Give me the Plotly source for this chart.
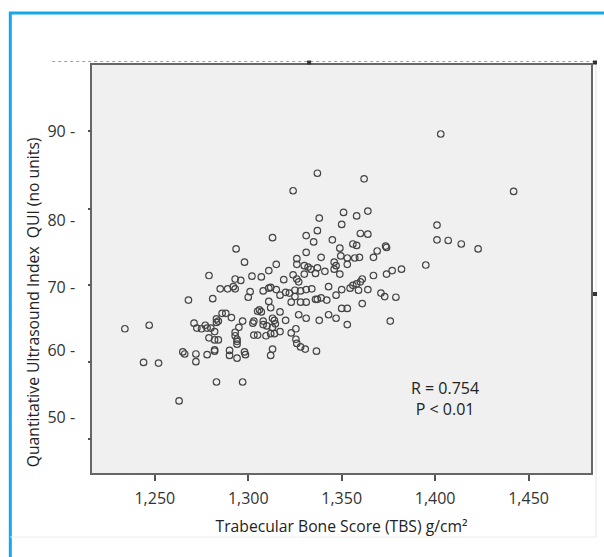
import plotly.graph_objects as go

# Trabecular Bone Score (TBS, shown as 1,250 ... 1,450) and QUI values
tbs = [1403, 1337, 1362, 1324, 1442, 1351, 1364, 1338, 1358, 1350,
       1401, 1337, 1360, 1364, 1331, 1313, 1345, 1401, 1407, 1335,
       1356, 1358, 1414, 1373.5, 1374, 1349, 1293.5, 1423, 1369, 1331,
       1349.5, 1339, 1326, 1367, 1353, 1357, 1359.5, 1298, 1326, 1330,
       1332, 1333.5, 1337, 1341, 1330, 1336, 1346, 1347, 1346, 1353,
       1349, 1374, 1377, 1382, 1367, 1395, 1326, 1327, 1325, 1328,
       1331, 1334, 1343, 1350, 1354.5, 1356, 1358, 1361, 1360, 1359,
       1364, 1347, 1371, 1373, 1379, 1328, 1331, 1336, 1337, 1339,
       1342, 1361, 1350, 1353, 1327, 1331, 1338, 1343, 1347, 1353,
       1376, 1325.5, 1325.5, 1326, 1328, 1330.5, 1336.5, 1315, 1311, 1302,
       1307, 1279, 1293, 1296, 1319, 1324, 1285, 1289, 1292, 1293,
       1301, 1300, 1308, 1311, 1312, 1315, 1317, 1320, 1322, 1268,
       1281, 1311, 1323, 1325, 1312, 1305, 1306, 1307, 1317, 1286,
       1288, 1291, 1283, 1284, 1283, 1271, 1272.5, 1275, 1277, 1278,
       1280, 1282, 1297, 1295, 1303, 1302.5, 1308, 1308, 1310, 1313,
       1314, 1314.5, 1313, 1320, 1317, 1314, 1323, 1303, 1305, 1309.5,
       1312, 1293, 1293, 1294, 1294, 1294, 1279, 1282, 1284, 1282,
       1282, 1265, 1266, 1272, 1272, 1278, 1290, 1290, 1294, 1298,
       1298.5, 1313, 1312, 1234, 1247, 1244, 1252, 1263, 1283, 1297]

qui = [91.0, 85.4, 84.6, 82.9, 82.8, 79.8, 80.0, 79.0, 79.3, 78.1,
       78.0, 77.2, 76.8, 76.7, 76.5, 76.2, 75.9, 75.9, 75.8, 75.6,
       75.3, 75.1, 75.3, 75.0, 74.8, 74.7, 74.6, 74.6, 74.3, 74.1,
       73.6, 73.4, 73.2, 73.4, 73.3, 73.3, 73.4, 72.7, 72.4, 72.2,
       72.0, 71.7, 71.9, 71.4, 71.0, 71.1, 72.7, 72.2, 71.7, 72.4,
       71.0, 71.0, 71.5, 71.7, 70.8, 72.3, 70.3, 69.9, 68.7, 68.6,
       68.8, 68.9, 69.2, 68.8, 69.0, 69.4, 69.6, 70.3, 69.9, 68.7,
       68.8, 68.0, 68.3, 67.8, 67.7, 67.0, 67.0, 67.4, 67.4, 67.6,
       67.3, 66.8, 66.1, 66.1, 65.2, 64.7, 64.4, 65.2, 64.7, 63.8,
       64.3, 63.2, 61.7, 61.1, 60.6, 60.3, 60.0, 72.4, 71.5, 70.7,
       70.6, 70.8, 70.3, 70.1, 70.2, 70.9, 68.9, 68.9, 69.2, 68.9,
       68.5, 67.7, 68.6, 69.0, 69.1, 68.8, 68.0, 68.4, 68.3, 67.3,
       67.5, 67.1, 67.0, 67.8, 66.2, 65.7, 65.9, 65.6, 65.6, 65.4,
       65.4, 64.8, 64.6, 64.3, 64.1, 64.0, 63.3, 63.2, 63.7, 63.3,
       63.3, 62.8, 64.3, 63.4, 64.3, 64.0, 64.3, 63.8, 63.6, 64.7,
       64.4, 63.9, 63.4, 64.4, 62.8, 62.5, 62.6, 62.3, 62.3, 62.2,
       62.5, 62.7, 62.2, 61.7, 61.4, 61.0, 61.9, 61.6, 61.6, 60.2,
       60.0, 59.9, 59.6, 59.6, 58.5, 59.5, 60.1, 59.4, 59.0, 59.9,
       59.5, 60.3, 59.4, 63.2, 63.7, 58.4, 58.3, 52.9, 55.6, 55.6]

x_ticks = [1250, 1300, 1350, 1400, 1450]
y_tick_labels = ["90 -", "80 -", "70 -", "60 -", "50 -"]
stats_text = ["R = 0.754", "P < 0.01"]
y_title = "Quantitative Ultrasound Index\u00a0 QUI (no units)"
x_title = "Trabecular Bone Score (TBS) g/cm²"

FONT = "Open Sans"
XR = [1216.4, 1483.4]
YR = [42.61, 100.85]
label_pos = [91.32, 78.72, 69.16, 60.17, 50.61]
mark_pos = [91.42, 80.29, 69.44, 58.45, 47.46]

fig = go.Figure()
fig.add_trace(go.Scatter(
    x=tbs, y=qui, mode="markers", showlegend=False, hoverinfo="skip",
    marker=dict(symbol="circle-open", size=6.5, color="#444",
                line=dict(width=1.2, color="#444"))))
fig.add_trace(go.Scatter(
    x=[tbs[0]], y=[qui[0]], yaxis="y2", mode="markers", showlegend=False,
    hoverinfo="skip", marker=dict(opacity=0)))

fig.update_layout(
    width=604, height=557,
    margin=dict(l=92, r=11, t=65, b=84),
    paper_bgcolor="white", plot_bgcolor="#f0f0f0",
    font=dict(family=FONT, size=15, color="#222"),
    xaxis=dict(range=XR, tickvals=x_ticks, tickformat=",d",
               ticks="outside", ticklen=6, tickwidth=1.5, tickcolor="#555",
               ticklabelstandoff=4,
               showgrid=False, zeroline=False, showline=True, mirror=True,
               linecolor="#666", linewidth=1.5,
               tickfont=dict(size=16, color="#333"),
               title=dict(text=x_title,
                          font=dict(size=15.7, color="#222"), standoff=13)),
    yaxis=dict(range=YR, tickvals=label_pos, ticktext=y_tick_labels,
               ticks="", showgrid=False, zeroline=False, showline=True,
               mirror=True, linecolor="#666", linewidth=1.5,
               ticklabelstandoff=12,
               tickfont=dict(size=16, color="#333")),
    yaxis2=dict(range=YR, overlaying="y", side="left", anchor="x",
                tickvals=mark_pos, ticks="outside", ticklen=3, tickwidth=1.5,
                tickcolor="#555", showticklabels=False, showgrid=False,
                zeroline=False, showline=False),
)

fig.add_annotation(x=-0.1178, y=0.419, xref="paper", yref="paper",
                   text=y_title, textangle=-90, showarrow=False,
                   xanchor="center", yanchor="middle",
                   font=dict(family=FONT, size=15.7, color="#222"))
fig.add_annotation(x=1405.4, y=53.2, xref="x", yref="y",
                   text="<br>".join(stats_text), showarrow=False,
                   font=dict(family=FONT, size=16, color="#222"), align="center")

# decorative frame and selection marks of the original figure
shapes = [
    dict(type="rect", xref="paper", yref="paper", x0=-0.1637, x1=1.04,
         y0=-0.24, y1=1.1275, line=dict(color="#17a8e6", width=3)),
    dict(type="line", xref="paper", yref="paper", x0=-0.0798, x1=1.008,
         y0=1.0086, y1=1.0086, line=dict(color="#a0a0a0", width=1, dash="dot")),
    dict(type="line", xref="paper", yref="paper", x0=1.010, x1=1.010,
         y0=1.0086, y1=-0.157, line=dict(color="#e2e2e2", width=1)),
    dict(type="line", xref="paper", yref="paper", x0=-0.1637, x1=1.010,
         y0=-0.157, y1=-0.157, line=dict(color="#ececec", width=1)),
]
for (x0, x1, y0, y1) in [(0.4311, 0.4391, 1.0012, 1.011),
                         (1.004, 1.012, 1.0012, 1.011),
                         (1.004, 1.012, 0.4338, 0.4436)]:
    shapes.append(dict(type="rect", xref="paper", yref="paper", x0=x0, x1=x1,
                       y0=y0, y1=y1, line=dict(width=0), fillcolor="#333"))
fig.update_layout(shapes=shapes)

fig.write_html("out.html", config={"displayModeBar": False},
               post_script="document.body.style.margin='0px';")
